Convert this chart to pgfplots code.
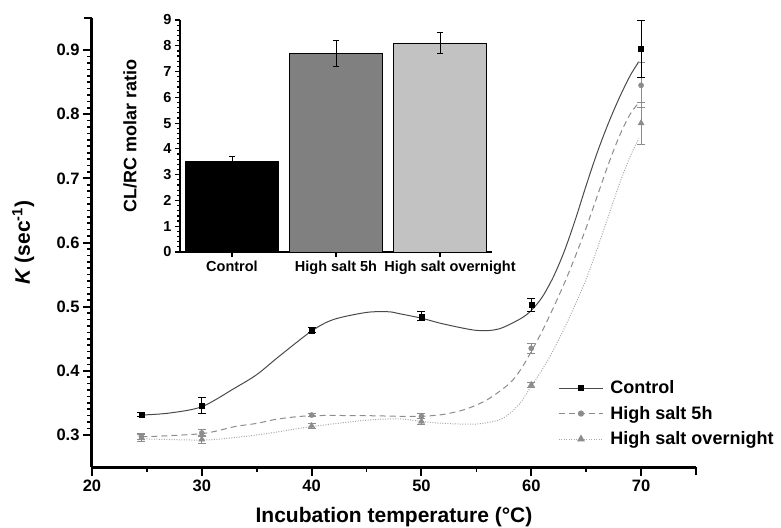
\documentclass[border=0pt]{standalone}
\usepackage{pgfplots}
\pgfplotsset{compat=1.18}
\usepackage{fontspec}
\setmainfont{Liberation Sans}

\definecolor{ctrlline}{HTML}{4A4A4A}
\definecolor{midgray}{HTML}{8C8C8C}
\definecolor{lightline}{HTML}{A8A8A8}
\definecolor{bargray}{HTML}{808080}
\definecolor{barlight}{HTML}{C2C2C2}

\pgfplotstableread{
x    y      e
24.5 0.332  0.003
30   0.346  0.012
40   0.463  0.004
50   0.485  0.007
60   0.503  0.010
70   0.902  0.044
}\control
\pgfplotstableread{
x    y      e
24.5 0.298  0.005
30   0.303  0.006
40   0.331  0.003
50   0.329  0.004
60   0.435  0.008
70   0.845  0.035
}\fivehour
\pgfplotstableread{
x    y      e
24.5 0.295  0.006
30   0.293  0.006
40   0.314  0.004
50   0.321  0.004
60   0.378  0.004
70   0.786  0.033
}\overnight

\begin{document}
\begin{tikzpicture}
\useasboundingbox (-92pt,-60pt) rectangle (689pt,467pt);
\begin{axis}[
  at={(0,0)}, anchor=south west,
  scale only axis, width=604pt, height=449pt,
  xmin=20, xmax=75, ymin=0.25, ymax=0.95,
  axis x line*=bottom, axis y line*=left,
  axis line style={-, line width=3pt},
  xtick={20,30,...,70}, ytick={0.3,0.4,...,0.9},
  extra x ticks={75}, extra x tick labels={},
  extra y ticks={0.95}, extra y tick labels={},
  extra tick style={major tick length=8pt},
  minor x tick num=1, minor y tick num=9,
  tick align=outside,
  major tick length=9pt, minor tick length=5pt,
  every tick/.style={black, line width=2pt},
  minor tick style={line width=1.6pt},
  /pgf/number format/assume math mode=true,
  yticklabel style={/pgf/number format/.cd, fixed, fixed zerofill, precision=1},
  ticklabel style={font=\fontsize{16.5}{19}\selectfont\bfseries},
  xlabel={Incubation temperature (°C)},
  ylabel={{\itshape K} (sec\textsuperscript{-1})},
  label style={font=\fontsize{21}{24}\selectfont\bfseries},
  xlabel style={at={(axis description cs:0.5,-0.1225)}, anchor=base},
  ylabel style={at={(axis description cs:-0.114,0.5)}, anchor=center},
  legend style={at={(axis description cs:0.772,0.197)}, anchor=north west,
    draw=none, fill=none, font=\fontsize{18}{21}\selectfont\bfseries,
    row sep=7pt, column sep=5pt, inner sep=0pt},
  legend cell align=left,
  legend image code/.code={\draw[mark repeat=2, mark phase=2, #1]
    plot coordinates {(0pt,0pt) (22pt,0pt) (44pt,0pt)};},
]
\addlegendimage{ctrlline, line width=1pt, mark=square*, mark size=2.5pt, mark options={black, solid}}
\addlegendentry{Control}
\addlegendimage{midgray, line width=1pt, dash pattern=on 6pt off 4pt, mark=*, mark size=2.6pt, mark options={midgray, solid}}
\addlegendentry{High salt 5h}
\addlegendimage{lightline, line width=1pt, dash pattern=on 1pt off 1.5pt, mark=triangle*, mark size=3.6pt, mark options={midgray, solid}}
\addlegendentry{High salt overnight}

% smoothed fit curves
\addplot[ctrlline, line width=1pt, smooth, forget plot] coordinates {
  (24.5,0.331) (27,0.334) (30,0.344) (33,0.373) (35,0.394) (37,0.422)
  (40,0.462) (42,0.480) (45,0.491) (47,0.492) (48,0.489) (50,0.482)
  (52,0.473) (55,0.463) (57,0.465) (59,0.481) (60,0.494) (61,0.515)
  (62,0.546) (63,0.586) (64,0.635) (65,0.689) (66,0.740) (67,0.785)
  (68,0.825) (69,0.860) (69.8,0.882)};
\addplot[midgray, line width=1pt, dash pattern=on 6pt off 4pt, smooth, forget plot] coordinates {
  (24.5,0.297) (30,0.302) (33,0.313) (35,0.318) (37,0.325) (40,0.330)
  (45,0.330) (48,0.329) (50,0.329) (52,0.332) (54,0.340) (56,0.355)
  (58,0.380) (59,0.401) (60,0.430) (61,0.462) (62,0.498) (63,0.536)
  (64,0.578) (65,0.623) (66,0.672) (67,0.721) (68,0.765) (69,0.800)
  (69.8,0.818)};
\addplot[lightline, line width=1pt, dash pattern=on 1pt off 1.5pt, smooth, forget plot] coordinates {
  (24.5,0.294) (30,0.292) (33,0.296) (35,0.300) (37,0.305) (40,0.313)
  (45,0.323) (48,0.325) (50,0.321) (52,0.318) (55,0.317) (57,0.323)
  (58,0.333) (59,0.350) (60,0.376) (61,0.402) (62,0.432) (63,0.466)
  (64,0.503) (65,0.543) (66,0.590) (67,0.640) (68,0.690) (69,0.734)
  (69.8,0.762)};

% measured points
\addplot[only marks, mark=triangle*, mark size=3.6pt, midgray, forget plot,
  error bars/.cd, y dir=both, y explicit,
  error bar style={midgray, line width=1pt},
  error mark options={midgray, mark size=4pt, line width=1pt, rotate=90}]
  table[x=x, y=y, y error=e] {\overnight};
\addplot[only marks, mark=*, mark size=2.6pt, midgray, forget plot,
  error bars/.cd, y dir=both, y explicit,
  error bar style={midgray, line width=1pt},
  error mark options={midgray, mark size=4pt, line width=1pt, rotate=90}]
  table[x=x, y=y, y error=e] {\fivehour};
\addplot[only marks, mark=square*, mark size=2.5pt, black, forget plot,
  error bars/.cd, y dir=both, y explicit,
  error bar style={black, line width=1pt},
  error mark options={black, mark size=4pt, line width=1pt, rotate=90}]
  table[x=x, y=y, y error=e] {\control};
\end{axis}

\begin{axis}[
  at={(88pt,215pt)}, anchor=south west,
  scale only axis, width=312pt, height=232pt,
  xmin=-0.5, xmax=2.5, ymin=0, ymax=9,
  axis x line*=bottom, axis y line*=left,
  axis line style={-, line width=1.6pt},
  ybar, bar width=93pt,
  xtick={0,1,2},
  xticklabels={Control, High salt 5h, \hspace*{20pt}High salt overnight},
  ytick={0,1,...,9}, minor y tick num=4,
  tick align=outside,
  major tick length=5pt, minor tick length=3pt,
  every tick/.style={black, line width=1.2pt},
  /pgf/number format/assume math mode=true,
  xticklabel style={font=\fontsize{14.5}{17}\selectfont\bfseries},
  yticklabel style={font=\fontsize{14.5}{17}\selectfont\bfseries},
  ylabel={CL/RC molar ratio},
  ylabel style={font=\fontsize{18}{21}\selectfont\bfseries,
    at={(axis description cs:-0.16,0.5)}, anchor=center},
  error bars/y dir=both, error bars/y explicit,
  error bars/error bar style={black, line width=1pt},
  error bars/error mark options={black, mark size=3pt, line width=1pt, rotate=90},
]
\addplot[bar shift=0pt, draw=black, fill=black, line width=0.8pt]
  coordinates {(0,3.5) +- (0,0.22)};
\addplot[bar shift=0pt, draw=black, fill=bargray, line width=0.8pt]
  coordinates {(1,7.7) +- (0,0.5)};
\addplot[bar shift=0pt, draw=black, fill=barlight, line width=0.8pt]
  coordinates {(2,8.1) +- (0,0.4)};
\end{axis}
\end{tikzpicture}
\end{document}
